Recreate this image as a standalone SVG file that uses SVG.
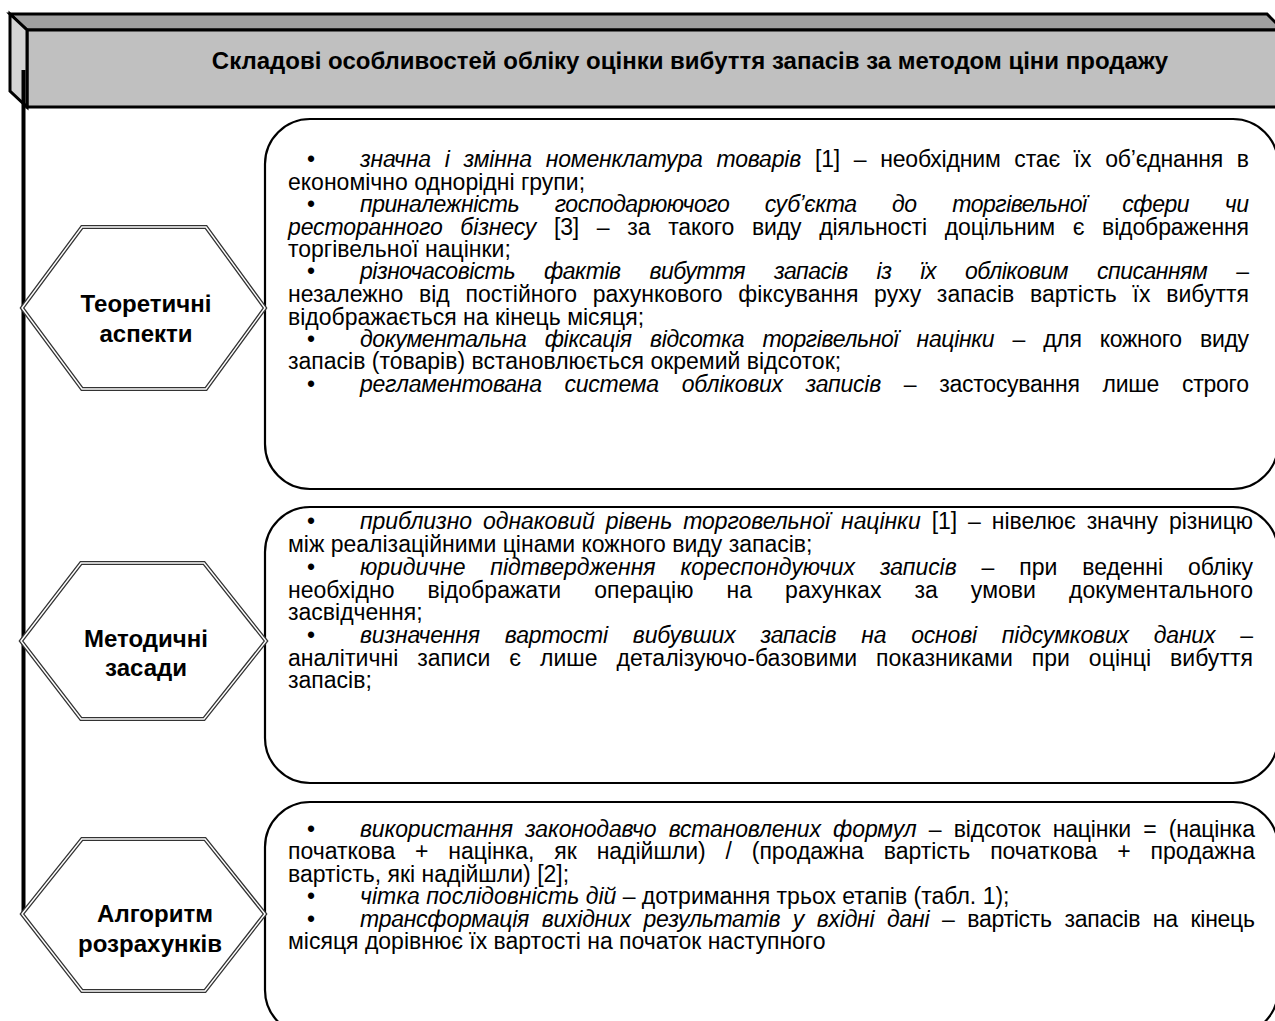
<svg xmlns="http://www.w3.org/2000/svg" width="1275" height="1021" viewBox="0 0 1275 1021">
<style>
text{font-family:"Liberation Sans",Arial,sans-serif;fill:#000}
.t{font-size:23px}
.i{font-style:italic}
.h{font-size:24px;font-weight:bold;text-anchor:middle}
.ttl{font-size:24px;font-weight:bold;text-anchor:middle}
.box{fill:#fff;stroke:#000;stroke-width:2.2}
.hexo{fill:#fff;stroke:#333;stroke-width:4}
.hexi{fill:none;stroke:#fff;stroke-width:1.4}
.hd{stroke:#000;stroke-width:3;stroke-linejoin:miter}
</style>
<g id="header">
<polygon class="hd" points="10,14 1267,14 1283,30 27,30" fill="#a0a0a0"/>
<rect class="hd" x="27" y="30" width="1265" height="77" fill="#c0c0c0"/>
<polygon class="hd" points="10,14 27,30 27,107 10,91" fill="#d4d4d4"/>
<text class="ttl" x="690" y="69">Складові особливостей обліку оцінки вибуття запасів за методом ціни продажу</text>
</g>
<g id="connectors">
<line x1="23.5" y1="70" x2="23.5" y2="912" stroke="#000" stroke-width="4"/>
</g>
<g id="box1">
<rect class="box" x="265" y="119" width="1013" height="370" rx="45"/>
<text class="t" x="307" y="167">•</text>
<text class="t" x="360" y="167" word-spacing="7.6" textLength="889" lengthAdjust="spacing"><tspan class="i">значна і змінна номенклатура товарів</tspan> [1] – необхідним стає їх об’єднання в</text>
<text class="t" x="288" y="190">економічно однорідні групи;</text>
<text class="t" x="307" y="212">•</text>
<text class="t i" x="360" y="212" word-spacing="29.7" textLength="889" lengthAdjust="spacing">приналежність господарюючого суб’єкта до торгівельної сфери чи</text>
<text class="t" x="288" y="235" word-spacing="11.5" textLength="961" lengthAdjust="spacing"><tspan class="i">ресторанного бізнесу</tspan> [3] – за такого виду діяльності доцільним є відображення</text>
<text class="t" x="288" y="257">торгівельної націнки;</text>
<text class="t" x="307" y="279">•</text>
<text class="t" x="360" y="279" word-spacing="23" textLength="889" lengthAdjust="spacing"><tspan class="i">різночасовість фактів вибуття запасів із їх обліковим списанням</tspan> –</text>
<text class="t" x="288" y="302" word-spacing="9.3" textLength="961" lengthAdjust="spacing">незалежно від постійного рахункового фіксування руху запасів вартість їх вибуття</text>
<text class="t" x="288" y="325">відображається на кінець місяця;</text>
<text class="t" x="307" y="347">•</text>
<text class="t" x="360" y="347" word-spacing="12.3" textLength="889" lengthAdjust="spacing"><tspan class="i">документальна фіксація відсотка торгівельної націнки</tspan> – для кожного виду</text>
<text class="t" x="288" y="369">запасів (товарів) встановлюється окремий відсоток;</text>
<text class="t" x="307" y="392">•</text>
<text class="t" x="360" y="392" word-spacing="16.7" textLength="889" lengthAdjust="spacing"><tspan class="i">регламентована система облікових записів</tspan> – застосування лише строго</text>
</g>
<g id="box2">
<rect class="box" x="265" y="507" width="1013" height="276" rx="45"/>
<text class="t" x="307" y="529">•</text>
<text class="t" x="360" y="529" word-spacing="4.75" textLength="893" lengthAdjust="spacing"><tspan class="i">приблизно однаковий рівень торговельної націнки</tspan> [1] – нівелює значну різницю</text>
<text class="t" x="288" y="552">між реалізаційними цінами кожного виду запасів;</text>
<text class="t" x="307" y="575">•</text>
<text class="t" x="360" y="575" word-spacing="18.6" textLength="893" lengthAdjust="spacing"><tspan class="i">юридичне підтвердження кореспондуючих записів</tspan> – при веденні обліку</text>
<text class="t" x="288" y="598" word-spacing="26.6" textLength="965" lengthAdjust="spacing">необхідно відображати операцію на рахунках за умови документального</text>
<text class="t" x="288" y="620">засвідчення;</text>
<text class="t" x="307" y="643">•</text>
<text class="t" x="360" y="643" word-spacing="18.7" textLength="893" lengthAdjust="spacing"><tspan class="i">визначення вартості вибувших запасів на основі підсумкових даних</tspan> –</text>
<text class="t" x="288" y="666" word-spacing="12.5" textLength="965" lengthAdjust="spacing">аналітичні записи є лише деталізуючо-базовими показниками при оцінці вибуття</text>
<text class="t" x="288" y="688">запасів;</text>
</g>
<g id="box3">
<rect class="box" x="265" y="802" width="1013" height="233" rx="45"/>
<text class="t" x="307" y="837">•</text>
<text class="t" x="360" y="837" word-spacing="6.1" textLength="895" lengthAdjust="spacing"><tspan class="i">використання законодавчо встановлених формул</tspan> – відсоток націнки = (націнка</text>
<text class="t" x="288" y="859" word-spacing="13.5" textLength="967" lengthAdjust="spacing">початкова + націнка, як надійшли) / (продажна вартість початкова + продажна</text>
<text class="t" x="288" y="882">вартість, які надійшли) [2];</text>
<text class="t" x="307" y="904">•</text>
<text class="t" x="360" y="904"><tspan class="i">чітка послідовність дій</tspan> – дотримання трьох етапів (табл. 1);</text>
<text class="t" x="307" y="927">•</text>
<text class="t" x="360" y="927" word-spacing="6.6" textLength="895" lengthAdjust="spacing"><tspan class="i">трансформація вихідних результатів у вхідні дані</tspan> – вартість запасів на кінець</text>
<text class="t" x="288" y="949">місяця дорівнює їх вартості на початок наступного</text>
</g>
<g id="hex1">
<polygon class="hexo" points="22,308 82,227 206,227 265,308 206,389 82,389"/>
<polygon class="hexi" points="22,308 82,227 206,227 265,308 206,389 82,389"/>
<text class="h" x="146" y="312">Теоретичні</text>
<text class="h" x="146" y="342">аспекти</text>
</g>
<g id="hex2">
<polygon class="hexo" points="21,641 81,563 204,563 266,641 204,719 81,719"/>
<polygon class="hexi" points="21,641 81,563 204,563 266,641 204,719 81,719"/>
<text class="h" x="146" y="647">Методичні</text>
<text class="h" x="146" y="676">засади</text>
</g>
<g id="hex3">
<polygon class="hexo" points="22,914 82,839 205,839 265,914 205,991 82,991"/>
<polygon class="hexi" points="22,914 82,839 205,839 265,914 205,991 82,991"/>
<text class="h" x="155" y="922">Алгоритм</text>
<text class="h" x="150" y="952">розрахунків</text>
</g>
</svg>
